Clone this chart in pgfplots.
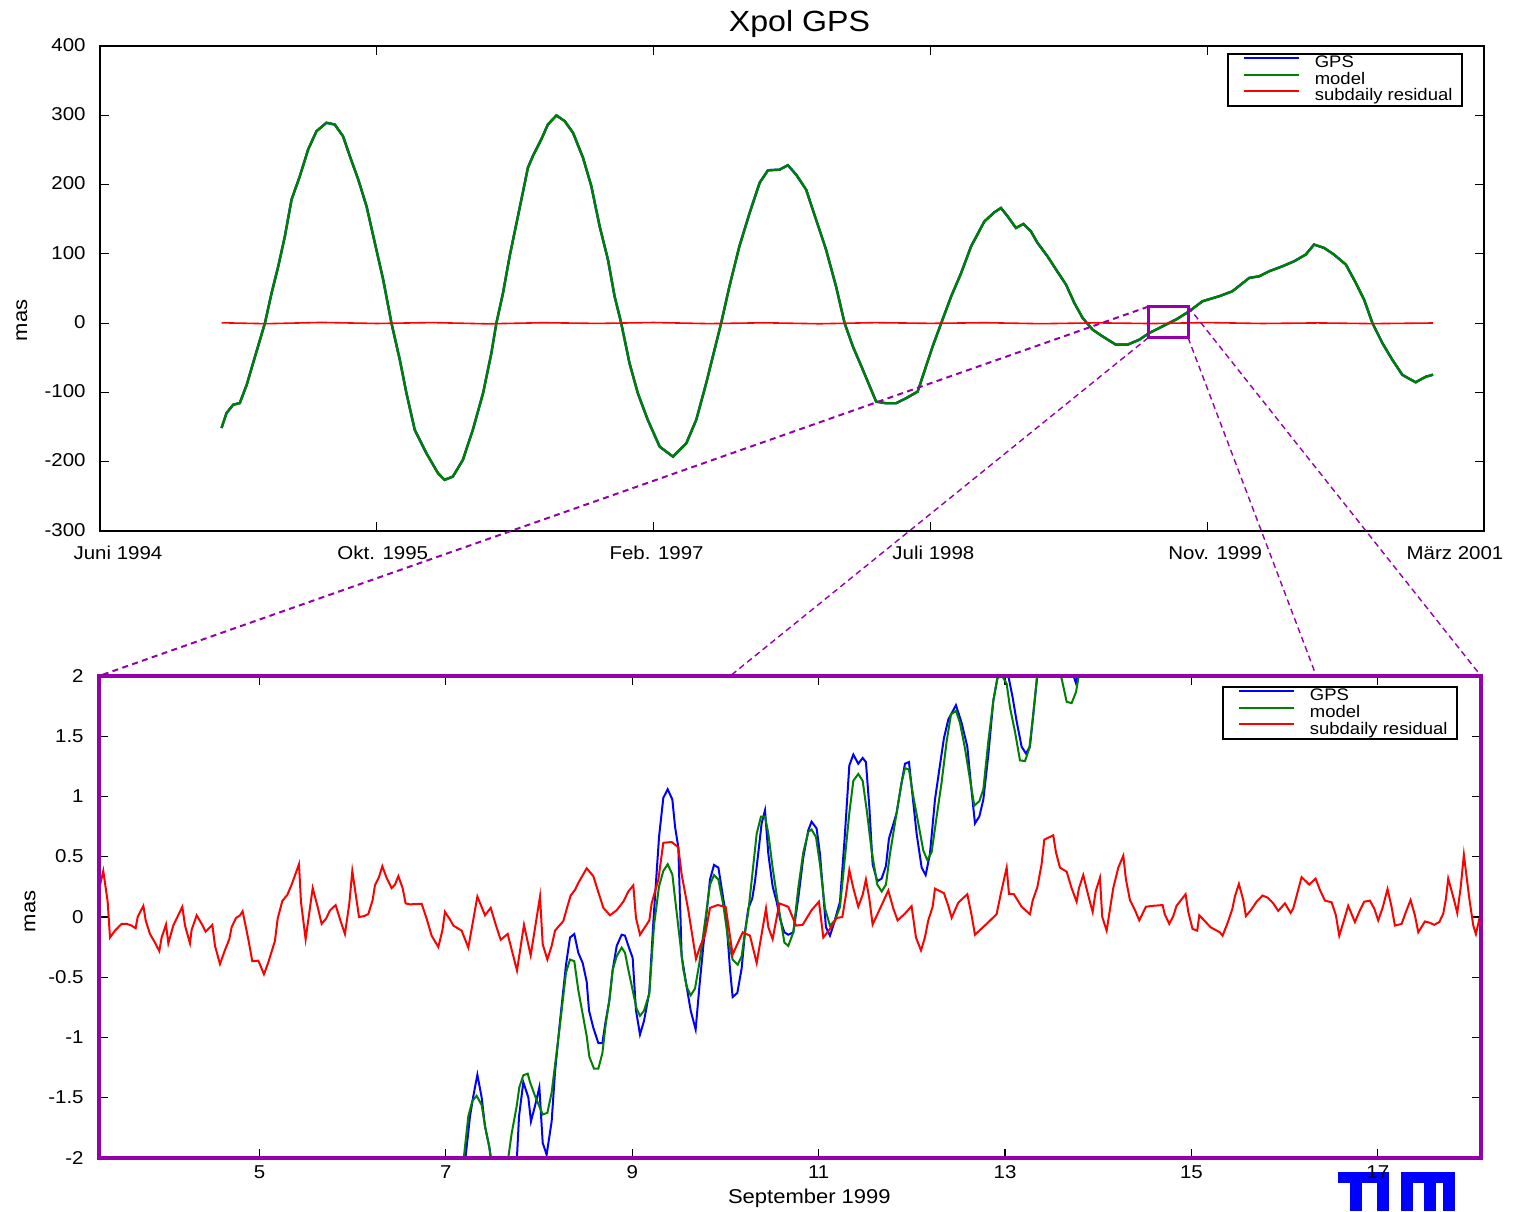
\documentclass[border=0pt]{standalone}
\usepackage{fontspec}
\setmainfont{Liberation Sans}[FakeStretch=1.1]
\usepackage{pgfplots}
\usepackage{pgfplotstable}
\pgfplotsset{compat=1.18}
\definecolor{mpurple}{RGB}{150,0,170}
\definecolor{mgreen}{RGB}{0,128,0}
\definecolor{mblue}{RGB}{0,0,255}
\definecolor{mred}{RGB}{255,0,0}

\pgfplotstableread{
x y
0.439 -151.4
0.457 -129.8
0.481 -117.8
0.505 -115.4
0.530 -89.0
0.560 -48.3
0.596 0.3
0.620 43.6
0.644 82.1
0.668 125.5
0.692 178.3
0.722 212.2
0.752 250.7
0.782 277.0
0.818 289.2
0.848 286.7
0.878 269.8
0.903 240.6
0.933 207.2
0.963 168.6
0.993 115.6
1.023 62.9
1.053 0.0
1.083 -52.7
1.107 -100.9
1.137 -153.9
1.179 -187.6
1.221 -216.5
1.245 -226.2
1.275 -221.4
1.311 -197.3
1.347 -153.9
1.384 -100.9
1.414 -43.1
1.432 0.0
1.456 43.6
1.480 96.7
1.510 154.5
1.546 224.4
1.564 241.3
1.595 265.9
1.618 286.7
1.649 299.8
1.679 291.5
1.709 274.7
1.745 238.7
1.775 197.7
1.805 139.9
1.835 91.8
1.859 38.8
1.883 0.0
1.913 -57.8
1.943 -101.2
1.979 -139.7
2.022 -178.3
2.070 -192.7
2.118 -173.5
2.154 -139.7
2.190 -86.7
2.220 -38.5
2.244 0.0
2.274 53.2
2.310 111.0
2.347 159.2
2.383 202.5
2.413 220.6
2.455 221.5
2.485 227.9
2.515 214.4
2.551 192.7
2.587 149.4
2.623 106.1
2.659 53.2
2.690 0.0
2.720 -33.7
2.756 -67.4
2.804 -113.3
2.840 -115.6
2.876 -115.6
2.912 -108.4
2.954 -98.8
2.984 -62.6
3.008 -33.7
3.039 0.0
3.075 38.6
3.111 72.3
3.147 110.8
3.195 146.8
3.231 160.0
3.255 166.2
3.279 154.2
3.309 137.4
3.336 143.1
3.363 132.6
3.387 115.8
3.423 96.5
3.454 77.3
3.490 55.6
3.520 29.1
3.550 7.4
3.586 -9.4
3.622 -19.1
3.670 -31.1
3.712 -31.1
3.755 -23.8
3.791 -14.2
3.839 -4.5
3.887 5.1
3.935 17.1
3.983 31.6
4.043 38.8
4.091 46.0
4.152 65.3
4.188 67.6
4.224 74.9
4.272 82.1
4.314 89.3
4.356 99.0
4.386 113.4
4.422 108.6
4.458 99.0
4.501 84.5
4.537 58.0
4.567 33.7
4.597 0.0
4.633 -28.9
4.669 -53.0
4.705 -74.7
4.753 -85.3
4.790 -77.3
4.816 -74.4
}\topmodel

\pgfplotstableread{
x y
0.439 0.5
0.6 -0.8
0.8 1.0
1.0 -0.5
1.2 0.8
1.4 -1.0
1.6 0.6
1.8 -0.4
2.0 0.9
2.2 -0.7
2.4 0.5
2.6 -0.9
2.8 0.7
3.0 -0.3
3.2 0.6
3.4 -0.8
3.6 0.4
3.8 -0.6
4.0 0.8
4.2 -0.5
4.4 0.3
4.6 -0.7
4.816 0.2
}\topres

\pgfplotstableread{
x y
7.15 -2.5
7.205 -2.035
7.259 -1.653
7.295 -1.484
7.338 -1.309
7.384 -1.498
7.420 -1.738
7.466 -1.908
7.491 -2.035
7.62 -2.5
7.760 -2.035
7.785 -1.653
7.831 -1.371
7.885 -1.498
7.913 -1.696
7.956 -1.569
8.003 -1.413
8.039 -1.874
8.081 -1.973
8.135 -1.696
8.171 -1.286
8.225 -0.862
8.289 -0.396
8.332 -0.170
8.378 -0.141
8.421 -0.297
8.468 -0.382
8.511 -0.537
8.536 -0.777
8.582 -0.919
8.636 -1.046
8.679 -1.046
8.715 -0.862
8.754 -0.692
8.790 -0.438
8.833 -0.240
8.886 -0.147
8.922 -0.155
8.958 -0.240
9.004 -0.339
9.040 -0.777
9.083 -0.975
9.126 -0.862
9.183 -0.622
9.226 -0.042
9.287 0.664
9.333 0.989
9.380 1.060
9.430 0.975
9.459 0.749
9.494 0.579
9.530 -0.325
9.584 -0.579
9.627 -0.777
9.680 -0.933
9.720 -0.579
9.780 -0.099
9.834 0.311
9.877 0.432
9.924 0.410
9.970 0.184
10.006 0.014
10.049 -0.438
10.077 -0.664
10.127 -0.630
10.174 -0.424
10.209 -0.127
10.245 0.071
10.288 0.155
10.317 0.297
10.353 0.537
10.388 0.777
10.424 0.885
10.460 0.523
10.506 0.254
10.549 0.127
10.585 -0.014
10.632 -0.127
10.674 -0.147
10.728 -0.127
10.781 0.155
10.835 0.495
10.889 0.721
10.924 0.791
10.978 0.735
11.014 0.523
11.050 0.184
11.078 -0.085
11.121 -0.155
11.157 -0.071
11.229 0.127
11.282 0.692
11.329 1.258
11.372 1.348
11.425 1.272
11.472 1.320
11.507 1.286
11.543 0.919
11.579 0.438
11.629 0.297
11.676 0.319
11.722 0.424
11.754 0.650
11.836 0.862
11.890 1.116
11.926 1.272
11.969 1.286
12.008 1.003
12.051 0.692
12.105 0.410
12.148 0.348
12.194 0.523
12.248 0.975
12.301 1.258
12.344 1.484
12.391 1.639
12.473 1.758
12.534 1.611
12.595 1.413
12.641 1.046
12.677 0.777
12.724 0.834
12.767 0.975
12.820 1.343
12.874 1.795
12.927 2.021
12.97 2.12
13.02 2.06
13.081 1.823
13.124 1.625
13.178 1.413
13.224 1.357
13.267 1.413
13.314 1.767
13.356 2.077
13.45 2.5
13.62 2.5
13.714 2.05
13.761 1.94
13.804 2.1
13.85 2.3
}\botgps

\pgfplotstableread{
x y
7.10 -2.5
7.187 -2.035
7.241 -1.653
7.284 -1.526
7.330 -1.484
7.384 -1.560
7.420 -1.738
7.466 -1.908
7.484 -2.035
7.58 -2.4
7.663 -2.035
7.706 -1.795
7.760 -1.569
7.788 -1.413
7.831 -1.314
7.878 -1.300
7.903 -1.371
7.956 -1.484
8.039 -1.639
8.089 -1.625
8.135 -1.456
8.171 -1.230
8.225 -0.890
8.289 -0.461
8.332 -0.353
8.378 -0.367
8.421 -0.608
8.468 -0.806
8.511 -0.989
8.539 -1.159
8.589 -1.258
8.636 -1.258
8.679 -1.131
8.715 -0.890
8.754 -0.692
8.790 -0.438
8.833 -0.325
8.886 -0.254
8.922 -0.297
8.958 -0.438
9.004 -0.608
9.047 -0.763
9.083 -0.820
9.126 -0.777
9.183 -0.636
9.233 -0.071
9.287 0.254
9.333 0.382
9.380 0.438
9.430 0.353
9.459 0.155
9.505 -0.155
9.548 -0.438
9.584 -0.579
9.627 -0.650
9.673 -0.594
9.720 -0.382
9.780 -0.042
9.834 0.269
9.877 0.348
9.924 0.311
9.977 0.099
10.031 -0.198
10.077 -0.353
10.131 -0.396
10.174 -0.325
10.209 -0.127
10.245 0.042
10.288 0.353
10.335 0.692
10.381 0.834
10.424 0.834
10.460 0.692
10.506 0.410
10.549 0.184
10.585 0.014
10.632 -0.212
10.674 -0.240
10.728 -0.127
10.781 0.240
10.835 0.537
10.889 0.707
10.924 0.726
10.971 0.664
11.014 0.438
11.068 0.071
11.121 -0.071
11.175 -0.028
11.229 0.085
11.282 0.495
11.329 0.862
11.372 1.131
11.425 1.187
11.472 1.131
11.515 0.890
11.568 0.551
11.629 0.269
11.676 0.212
11.722 0.269
11.765 0.523
11.836 0.862
11.890 1.116
11.926 1.235
11.969 1.224
12.015 1.003
12.069 0.777
12.123 0.551
12.166 0.472
12.212 0.537
12.266 0.834
12.319 1.116
12.373 1.456
12.420 1.682
12.473 1.710
12.516 1.611
12.570 1.399
12.623 1.145
12.670 0.924
12.724 0.961
12.767 1.060
12.820 1.456
12.874 1.795
12.917 1.979
12.963 2.007
13.017 1.936
13.053 1.738
13.106 1.540
13.160 1.300
13.214 1.294
13.260 1.399
13.303 1.682
13.346 2.021
13.45 2.5
13.553 2.077
13.607 1.979
13.661 1.786
13.714 1.775
13.761 1.866
13.804 2.063
13.85 2.3
}\botmodel

\pgfplotstableread{
x y
3.24 0.10
3.278 0.226
3.324 0.382
3.371 0.127
3.396 -0.170
3.450 -0.113
3.521 -0.057
3.575 -0.057
3.628 -0.071
3.671 -0.093
3.693 0.0
3.754 0.093
3.779 -0.028
3.825 -0.141
3.879 -0.212
3.925 -0.283
3.950 -0.170
3.997 -0.062
4.022 -0.218
4.075 -0.071
4.172 0.085
4.201 -0.071
4.254 -0.218
4.272 -0.107
4.326 0.014
4.380 -0.057
4.422 -0.122
4.494 -0.065
4.523 -0.240
4.576 -0.390
4.630 -0.274
4.676 -0.184
4.701 -0.085
4.748 -0.008
4.791 0.014
4.819 0.048
4.880 -0.184
4.923 -0.367
4.988 -0.362
5.048 -0.475
5.095 -0.376
5.166 -0.198
5.195 -0.014
5.245 0.133
5.299 0.184
5.345 0.269
5.424 0.438
5.445 0.127
5.495 -0.184
5.571 0.240
5.624 0.085
5.667 -0.057
5.714 -0.014
5.756 0.054
5.817 0.099
5.874 -0.042
5.917 -0.141
5.964 0.113
5.996 0.382
6.068 0.0
6.125 0.008
6.168 0.025
6.214 0.141
6.239 0.263
6.282 0.331
6.318 0.421
6.364 0.325
6.418 0.240
6.454 0.269
6.490 0.339
6.536 0.240
6.568 0.113
6.615 0.105
6.740 0.110
6.794 -0.014
6.847 -0.155
6.919 -0.249
6.962 -0.113
6.990 0.042
7.044 -0.020
7.080 -0.071
7.169 -0.113
7.241 -0.254
7.338 0.170
7.420 0.014
7.481 0.076
7.538 -0.071
7.588 -0.189
7.663 -0.141
7.763 -0.444
7.838 -0.065
7.910 -0.319
8.010 0.170
8.039 -0.226
8.089 -0.353
8.135 -0.240
8.171 -0.113
8.260 -0.034
8.303 0.085
8.339 0.178
8.386 0.226
8.421 0.283
8.511 0.404
8.582 0.339
8.636 0.206
8.690 0.076
8.761 0.014
8.833 0.057
8.904 0.127
8.958 0.212
9.011 0.263
9.040 -0.008
9.083 -0.147
9.183 -0.028
9.208 0.113
9.280 0.311
9.333 0.616
9.423 0.622
9.494 0.579
9.530 0.353
9.601 0.057
9.684 -0.348
9.727 -0.246
9.780 -0.155
9.834 0.076
9.916 0.099
10.002 0.085
10.077 -0.311
10.185 -0.127
10.263 -0.155
10.335 -0.382
10.435 0.071
10.460 -0.085
10.506 -0.184
10.578 0.113
10.674 0.085
10.757 -0.071
10.828 -0.065
10.924 0.057
11.003 0.127
11.050 -0.170
11.121 -0.099
11.193 -0.008
11.254 0.0
11.293 0.184
11.329 0.390
11.372 0.240
11.425 0.085
11.472 0.184
11.507 0.311
11.543 0.155
11.579 -0.062
11.676 0.099
11.747 0.220
11.801 0.071
11.847 -0.028
11.926 0.028
11.997 0.090
12.044 -0.170
12.098 -0.277
12.140 -0.170
12.176 -0.028
12.223 0.085
12.248 0.235
12.344 0.198
12.391 0.093
12.427 -0.006
12.498 0.119
12.595 0.189
12.641 0.014
12.677 -0.147
12.802 -0.057
12.909 0.023
12.952 0.184
13.017 0.410
13.042 0.192
13.095 0.189
13.178 0.085
13.267 0.023
13.296 0.136
13.346 0.246
13.392 0.438
13.421 0.642
13.517 0.678
13.546 0.537
13.589 0.410
13.661 0.376
13.714 0.240
13.768 0.127
13.793 0.240
13.839 0.348
13.893 0.178
13.940 0.042
13.972 0.212
14.018 0.325
14.043 0.0
14.090 -0.113
14.161 0.240
14.215 0.410
14.269 0.509
14.297 0.311
14.340 0.141
14.394 0.057
14.440 -0.028
14.511 0.085
14.590 0.093
14.690 0.099
14.715 0.020
14.762 -0.057
14.805 0.008
14.840 0.093
14.937 0.189
14.966 0.042
15.012 -0.099
15.062 -0.113
15.084 0.014
15.144 -0.034
15.205 -0.085
15.305 -0.127
15.334 -0.155
15.384 -0.057
15.438 0.065
15.466 0.170
15.509 0.274
15.556 0.141
15.584 0.008
15.638 0.057
15.699 0.127
15.763 0.178
15.817 0.161
15.878 0.113
15.931 0.051
16.003 0.113
16.064 0.034
16.092 0.071
16.182 0.331
16.264 0.269
16.332 0.319
16.378 0.226
16.432 0.136
16.504 0.122
16.550 0.014
16.586 -0.155
16.636 -0.028
16.682 0.093
16.754 -0.042
16.808 0.057
16.854 0.127
16.915 0.136
16.961 0.071
17.004 -0.028
17.051 0.076
17.104 0.232
17.147 0.085
17.183 -0.071
17.255 -0.057
17.301 0.042
17.351 0.141
17.398 0.014
17.434 -0.127
17.505 -0.037
17.559 -0.048
17.605 -0.065
17.659 -0.042
17.702 0.028
17.730 0.150
17.755 0.319
17.816 0.147
17.852 0.034
17.888 0.240
17.923 0.517
17.981 0.155
18.024 -0.071
18.052 -0.141
18.102 0.028
}\botres

\pgfplotsset{
  mystyle/.style={
    scale only axis,
    tick align=inside,
    major tick length=4.5pt,
    tick style={black, line width=0.6pt},
    axis line style={black, line width=1pt},
    tick label style={font=\fontsize{9.3}{10}\selectfont},
    xticklabel style={anchor=base},
    yticklabel style={anchor=base east, inner sep=0pt},
    label style={font=\fontsize{9.3}{10}\selectfont},
    legend cell align=left,
    legend image code/.code={\path (0pt,0pt); \draw[#1, line width=1pt] (3.5pt,2.6pt) -- (31pt,2.6pt);},
    legend style={draw=black, line width=0.9pt, fill=white,
      font=\fontsize{8.4}{8.6}\selectfont, inner xsep=4pt, inner ysep=0.3pt,
      column sep=6.6pt, row sep=-0.9pt, nodes={inner sep=0.8pt}},
  }
}

\begin{document}
\begin{tikzpicture}
\useasboundingbox (0pt,0pt) rectangle (759.5pt,605.5pt);

% TUM logo
\fill[mblue] (669pt,19.5pt) rectangle (694.5pt,14pt);
\fill[mblue] (700.5pt,19.5pt) rectangle (727.5pt,14pt);
\fill[mblue] (675pt,14.5pt) rectangle (681pt,0pt);
\fill[mblue] (688.5pt,14.5pt) rectangle (694.5pt,0pt);
\fill[mblue] (700.5pt,14.5pt) rectangle (706.5pt,0pt);
\fill[mblue] (712pt,14.5pt) rectangle (718pt,0pt);
\fill[mblue] (721.5pt,14.5pt) rectangle (727.5pt,0pt);

\begin{axis}[mystyle,
  name=top,
  at={(50pt,340pt)}, anchor=south west,
  width=692pt, height=242.5pt,
  xmin=0, xmax=5, ymin=-300, ymax=400,
  xtick={0,1,2,3,4,5},
  xticklabels={{\hspace*{18pt}Juni 1994},{\hspace*{6pt}Okt. 1995},{\hspace*{3pt}Feb. 1997},{\hspace*{3pt}Juli 1998},{\hspace*{8pt}Nov. 1999},{März 2001\hspace*{29pt}}},
  xticklabel style={yshift=-14.5pt},
  ytick={-300,-200,-100,0,100,200,300,400},
  yticklabels={-300,-200,-100,0,100,200,300,400},
  yticklabel style={xshift=-7pt, yshift=-2.6pt},
  ylabel={mas},
  every axis y label/.style={at={(axis description cs:-0.0564,0.434)}, rotate=90, anchor=center},
  title={Xpol GPS},
  title style={at={(axis description cs:0.5054,1.006)}, anchor=base, font=\fontsize{14.6}{16}\selectfont},
  legend style={at={(0.9848,0.9856)}, anchor=north east},
]
\addplot[mblue, line width=1.2pt] table[x=x,y=y] {\topmodel};
\addlegendentry{GPS}
\addplot[mgreen, line width=1.2pt] table[x=x,y=y] {\topmodel};
\addlegendentry{model}
\addplot[mred, line width=0.8pt] table[x=x,y=y] {\topres};
\addlegendentry{subdaily residual}
\draw[mpurple, line width=1.4pt] (axis cs:3.787,23.8) rectangle (axis cs:3.931,-21.0);
\coordinate (bNW) at (axis cs:3.787,23.8);
\coordinate (bNE) at (axis cs:3.931,23.8);
\coordinate (bSW) at (axis cs:3.787,-21.0);
\coordinate (bSE) at (axis cs:3.931,-21.0);
\end{axis}

\begin{axis}[mystyle,
  name=bot,
  at={(49.5pt,26.5pt)}, anchor=south west,
  width=691pt, height=241pt,
  xmin=3.278, xmax=18.107, ymin=-2, ymax=2,
  xtick={5,7,9,11,13,15,17},
  xticklabels={5,7,9,11,13,15,17},
  xticklabel style={yshift=-10.25pt},
  ytick={-2,-1.5,-1,-0.5,0,0.5,1,1.5,2},
  yticklabels={-2,-1.5,-1,-0.5,0,0.5,1,1.5,2},
  yticklabel style={xshift=-7.5pt, yshift=-3pt},
  ylabel={mas},
  every axis y label/.style={at={(axis description cs:-0.0499,0.512)}, rotate=90, anchor=center},
  xlabel={September 1999},
  every axis x label/.style={at={(axis description cs:0.514,-0.0954)}, anchor=base},
  legend style={at={(0.9834,0.979)}, anchor=north east},
]
\addplot[mblue, line width=1pt] table[x=x,y=y] {\botgps};
\addlegendentry{GPS}
\addplot[mgreen, line width=1pt] table[x=x,y=y] {\botmodel};
\addlegendentry{model}
\addplot[mred, line width=1pt] table[x=x,y=y] {\botres};
\addlegendentry{subdaily residual}
\coordinate (c1) at (axis cs:10.05,2);
\coordinate (c2) at (axis cs:16.34,2);
\end{axis}

\draw[mpurple, line width=2pt] (bot.south west) rectangle (bot.north east);
\draw[mpurple, line width=1pt, dash pattern=on 3pt off 2.2pt] (bNW) -- (bot.north west);
\draw[mpurple, line width=0.7pt, dash pattern=on 3pt off 2pt] (bSW) -- (c1);
\draw[mpurple, line width=0.7pt, dash pattern=on 3pt off 2pt] (bSE) -- (c2);
\draw[mpurple, line width=0.7pt, dash pattern=on 3pt off 2pt] (bNE) -- (bot.north east);
\end{tikzpicture}
\end{document}
